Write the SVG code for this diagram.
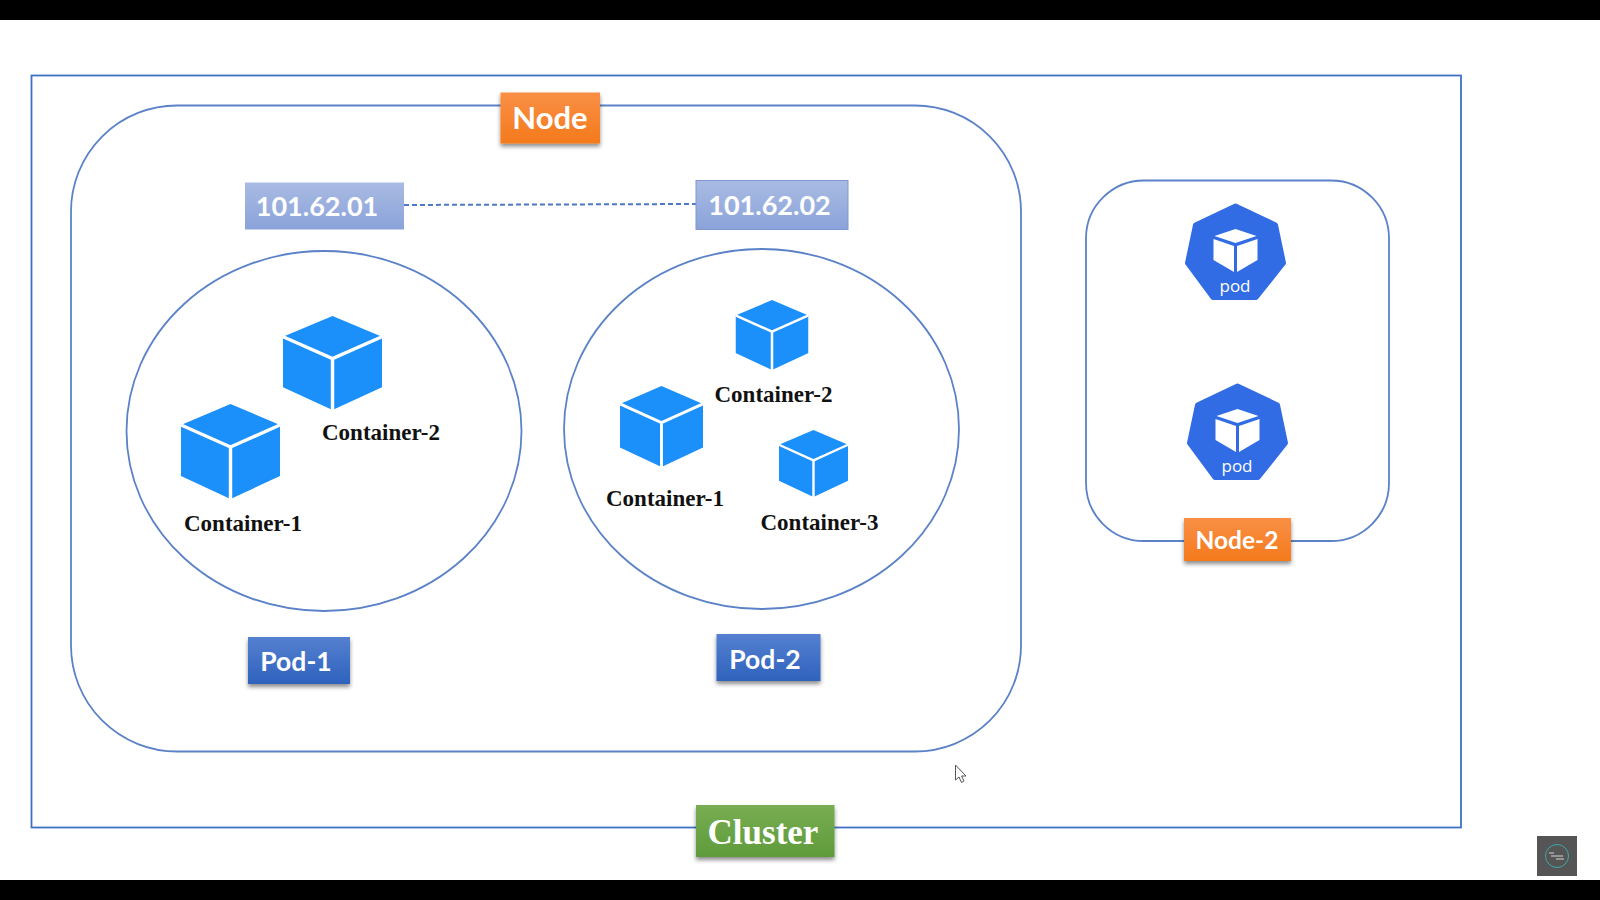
<svg xmlns="http://www.w3.org/2000/svg" width="1600" height="900" viewBox="0 0 1600 900">
<defs>
<linearGradient id="gO" x1="0" y1="0" x2="0" y2="1"><stop offset="0" stop-color="#f98f45"/><stop offset="1" stop-color="#f57a1c"/></linearGradient>
<linearGradient id="gB" x1="0" y1="0" x2="0" y2="1"><stop offset="0" stop-color="#5580d0"/><stop offset="1" stop-color="#2e62bd"/></linearGradient>
<linearGradient id="gG" x1="0" y1="0" x2="0" y2="1"><stop offset="0" stop-color="#78ad53"/><stop offset="1" stop-color="#5f9b3a"/></linearGradient>
<linearGradient id="gL" x1="0" y1="0" x2="0" y2="1"><stop offset="0" stop-color="#a9bbe3"/><stop offset="1" stop-color="#8ba3da"/></linearGradient>
<filter id="sh" x="-10%" y="-10%" width="120%" height="130%"><feDropShadow dx="0" dy="3" stdDeviation="2.2" flood-color="#000" flood-opacity="0.45"/></filter>
<symbol id="cube" viewBox="0 0 98 95" preserveAspectRatio="none">
<polygon points="49,0 98,21 98,72 49,95 0,72 0,21" fill="#1b8ffa"/>
<path d="M0,21 L49,43 L98,21 M49,43 V95" fill="none" stroke="#fff" stroke-width="3.4"/>
</symbol>
<symbol id="podicon" viewBox="0 0 102 98">
<polygon points="51,3 91,22 99,60 71.500,94.500 28.500,94.500 3,60 11,22" fill="#326ce5" stroke="#326ce5" stroke-width="5" stroke-linejoin="round"/>
<polygon points="51,26 72,33 51,40 30,33" fill="#fff"/>
<polygon points="29,36 49.500,43 49.500,69 29,57" fill="#fff"/>
<polygon points="52.500,43 73,36 73,57 52.500,69" fill="#fff"/>
</symbol>
</defs>
<style>
.frame{fill:none;stroke:#5b82c8;stroke-width:1.8}
.cl{font-family:"Liberation Serif","DejaVu Serif",serif;font-weight:700;font-size:23px;fill:#111}
.tag{font-family:Lato,"Liberation Sans",sans-serif;font-weight:700;fill:#fff;text-anchor:middle}
.podt{font-family:"Open Sans","Liberation Sans",sans-serif;font-size:17px;fill:#fff;text-anchor:middle}
</style>
<rect width="1600" height="900" fill="#fff"/>
<rect x="0" y="0" width="1600" height="20" fill="#000"/>
<rect x="0" y="880" width="1600" height="20" fill="#000"/>

<g id="cluster-frame"><rect class="frame" x="31.5" y="75.5" width="1429.500" height="752" style="stroke:#3f70c4"/></g>
<g id="node-frame"><rect class="frame" x="71" y="105.5" width="950" height="646" rx="106" ry="106"/></g>
<g id="node2-frame"><rect class="frame" x="1086" y="180.5" width="303" height="360.5" rx="58" ry="58"/></g>

<g id="connectors"><line x1="404" y1="205" x2="696" y2="204" stroke="#4f79c6" stroke-width="2" stroke-dasharray="5 3"/></g>

<g id="pod-1">
<ellipse class="frame" cx="324" cy="431" rx="197.5" ry="180"/>
<use href="#cube" x="283" y="316" width="99" height="94"/>
<use href="#cube" x="181" y="404" width="99" height="95"/>
<text class="cl" x="322" y="440">Container-2</text>
<text class="cl" x="184" y="531">Container-1</text>
</g>
<g id="pod-2">
<ellipse class="frame" cx="761.5" cy="429" rx="197.500" ry="180"/>
<use href="#cube" x="735.5" y="300" width="73" height="70"/>
<use href="#cube" x="620" y="386" width="83" height="81"/>
<use href="#cube" x="779" y="430" width="69" height="67"/>
<text class="cl" x="714.500" y="402">Container-2</text>
<text class="cl" x="606" y="505.500">Container-1</text>
<text class="cl" x="760.500" y="529.500">Container-3</text>
</g>

<g id="ip-1"><rect x="245" y="182.500" width="159" height="47" fill="url(#gL)"/><text class="tag" x="317" y="216" font-size="27">101.62.01</text></g>
<g id="ip-2"><rect x="696" y="180.500" width="152" height="49" fill="url(#gL)" stroke="#7f98d2"/><text class="tag" x="769.500" y="215" font-size="27">101.62.02</text></g>

<g id="node-label"><rect x="500.500" y="92.500" width="99.500" height="51" fill="url(#gO)" filter="url(#sh)"/><text class="tag" x="550" y="129" font-size="31">Node</text></g>
<g id="pod-1-label"><rect x="248" y="637" width="102" height="47" fill="url(#gB)" filter="url(#sh)"/><text class="tag" x="296" y="671" font-size="26.500">Pod-1</text></g>
<g id="pod-2-label"><rect x="716.500" y="634" width="104" height="47" fill="url(#gB)" filter="url(#sh)"/><text class="tag" x="765" y="668.500" font-size="26.500">Pod-2</text></g>
<g id="node-2-label"><rect x="1184" y="518" width="107" height="43" fill="url(#gO)" filter="url(#sh)"/><text class="tag" x="1237" y="549" font-size="24.500">Node-2</text></g>
<g id="cluster-label"><rect x="696" y="805" width="138.500" height="52" fill="url(#gG)" filter="url(#sh)"/><text x="763" y="844" font-family="Liberation Serif,DejaVu Serif,serif" font-weight="700" font-size="35" fill="#fff" text-anchor="middle">Cluster</text></g>

<g id="pod-icon-1"><use href="#podicon" x="1184.500" y="203" width="102" height="98"/><text class="podt" x="1235" y="292">pod</text></g>
<g id="pod-icon-2"><use href="#podicon" x="1186.500" y="383" width="102" height="98"/><text class="podt" x="1237" y="472">pod</text></g>

<g id="cursor"><path d="M955.500,765 V780 L959,777 L961.500,782.500 L964,781 L961.500,776 H966 Z" fill="#fff" stroke="#555" stroke-width="1"/></g>
<g id="badge">
<rect x="1537" y="836" width="40" height="40" fill="#555"/>
<circle cx="1557" cy="856" r="11.500" fill="none" stroke="#3fa9ad" stroke-width="1"/>
<path d="M1549,853 h5 M1551,856 h12 M1556,859 h8" stroke="#cfd8d8" stroke-width="1" fill="none"/>
</g>
</svg>
